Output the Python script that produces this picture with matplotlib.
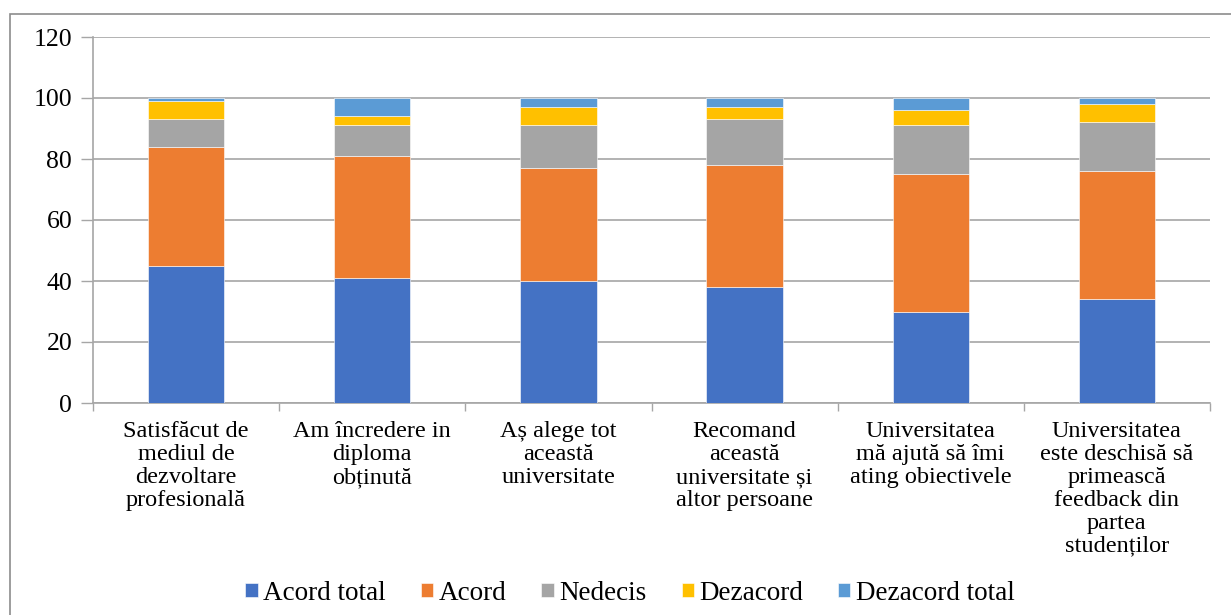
import matplotlib
matplotlib.use("Agg")
import matplotlib.pyplot as plt
import numpy as np
from matplotlib.patches import Rectangle

categories = [
    "Satisfăcut de\nmediul de\ndezvoltare\nprofesională",
    "Am încredere in\ndiploma\nobținută",
    "Aș alege tot\naceastă\nuniversitate",
    "Recomand\naceastă\nuniversitate și\naltor persoane",
    "Universitatea\nmă ajută să îmi\nating obiectivele",
    "Universitatea\neste deschisă să\nprimească\nfeedback din\npartea\nstudenților",
]
series_names = ["Acord total", "Acord", "Nedecis", "Dezacord", "Dezacord total"]
acord_total = [45, 41, 40, 38, 30, 34]
acord = [39, 40, 37, 40, 45, 42]
nedecis = [9, 10, 14, 15, 16, 16]
dezacord = [6, 3, 6, 4, 5, 6]
dezacord_total = [1, 6, 3, 3, 4, 2]
colors = ["#4472C4", "#ED7D31", "#A5A5A5", "#FFC000", "#5B9BD5"]
yticks = [0, 20, 40, 60, 80, 100, 120]

plt.rcParams['font.family'] = ['Liberation Serif', 'DejaVu Serif']

fig = plt.figure(figsize=(12.31, 6.15), dpi=100)
ax = fig.add_axes([93/1231, 1-403/615, (1210-93)/1231, (403-37)/615])

x = np.arange(len(categories))
bottom = np.zeros(len(categories))
for name, vals, c in zip(series_names,
                         [acord_total, acord, nedecis, dezacord, dezacord_total],
                         colors):
    ax.bar(x, vals, width=0.41, bottom=bottom, color=c, label=name,
           edgecolor="white", linewidth=0.4, zorder=3)
    bottom += np.array(vals)

ax.set_xlim(-0.5, len(categories) - 0.5)
ax.set_ylim(0, 120)
ax.set_yticks(yticks)
ax.set_yticklabels([str(v) for v in yticks], fontsize=18.5)
ax.yaxis.grid(True, color="#a6a6a6", linewidth=1.2, zorder=0)
ax.tick_params(axis='y', length=9, width=1, color="#a6a6a6", pad=6)

ax.set_xticks(x)
ax.set_xticklabels(categories, fontsize=17.5, linespacing=1.12)
ax.tick_params(axis='x', length=0, pad=13)
ax.set_xticks(np.arange(-0.5, len(categories), 1.0), minor=True)
ax.tick_params(axis='x', which='minor', length=6, width=1, color="#a6a6a6")

for s in ["top", "right"]:
    ax.spines[s].set_visible(False)
for s in ["left", "bottom"]:
    ax.spines[s].set_color("#a6a6a6")
    ax.spines[s].set_linewidth(1.2)

fig.legend(loc="center", bbox_to_anchor=(630/1231, 1-593/615), ncol=5,
           frameon=False, fontsize=19.5, handlelength=0.45, handleheight=0.45,
           handletextpad=0.2, columnspacing=1.3)

fig.patches.append(Rectangle((10/1231, -0.05), 1.1, 1-14/615+0.05,
                             transform=fig.transFigure, fill=False,
                             edgecolor="#8c8c8c", linewidth=1.2))

fig.savefig("out.png", dpi=100)
